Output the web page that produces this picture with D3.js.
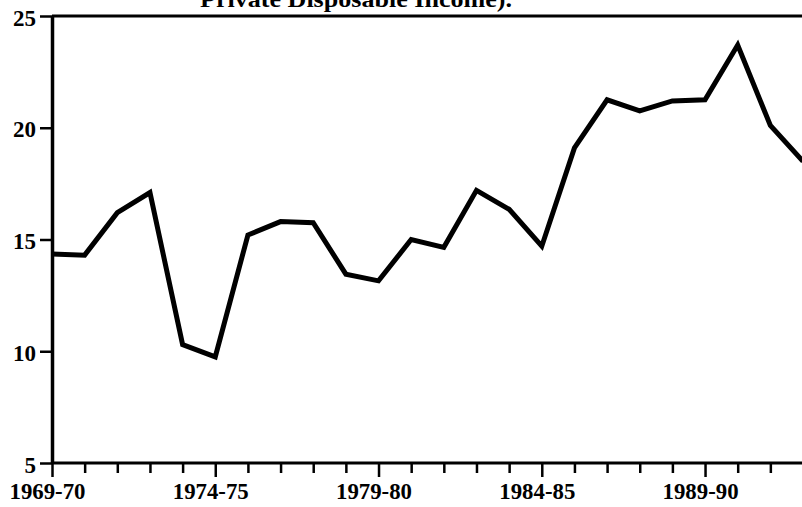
<!DOCTYPE html>
<html>
<head>
<meta charset="utf-8">
<script src="https://cdnjs.cloudflare.com/ajax/libs/d3/7.8.5/d3.min.js"></script>
<style>
  body { margin: 0; background: white; }
  svg { display: block; }
</style>
</head>
<body>
<div id="chart"></div>
<script>
// years 1969-70 .. 1992-93
let years = ["1969-70","1970-71","1971-72","1972-73","1973-74","1974-75","1975-76","1976-77",
  "1977-78","1978-79","1979-80","1980-81","1981-82","1982-83","1983-84","1984-85",
  "1985-86","1986-87","1987-88","1988-89","1989-90","1990-91","1991-92","1992-93"];
let values = [14.35, 14.3, 16.2, 17.1, 10.3, 9.75, 15.2, 15.8,
  15.75, 13.45, 13.15, 15.0, 14.65, 17.2, 16.35, 14.7,
  19.1, 21.25, 20.75, 21.2, 21.25, 23.7, 20.1, 18.5];
let yTicks = [5, 10, 15, 20, 25];
let labelYears = ["1969-70","1974-75","1979-80","1984-85","1989-90"];
let title = "Private Disposable Income).";

let dim = {'width': 802, 'height': 507};

let svg = d3.select('#chart').append('svg')
    .attr('width', dim.width)
    .attr('height', dim.height)
    .style('background', 'white');

let x = d3.scalePoint().domain(years).range([52, 803]);
let y = d3.scaleLinear().domain([5, 25]).range([463, 16]);

let font = '"Liberation Serif", "Times New Roman", serif';

// title, cut off at the top like in the scan
svg.append('text')
    .attr('x', 356)
    .attr('y', 7)
    .attr('text-anchor', 'middle')
    .attr('textLength', 312)
    .attr('lengthAdjust', 'spacingAndGlyphs')
    .style('font-family', font)
    .style('font-weight', 'bold')
    .style('font-size', '24px')
    .text(title);

// top frame line
svg.append('line')
    .attr('x1', x(years[0])).attr('x2', dim.width)
    .attr('y1', y(25)).attr('y2', y(25))
    .attr('stroke', 'black').attr('stroke-width', 3);

// x axis
let xAxis = svg.append('g')
    .attr('transform', `translate(0,${y(5)})`)
    .call(d3.axisBottom(x)
        .tickSize(10)
        .tickSizeOuter(0)
        .tickFormat(d => labelYears.includes(d) ? d : ''));
xAxis.select('.domain').attr('stroke-width', 3).attr('d', `M${x(years[0])},0H${dim.width}`);
xAxis.selectAll('.tick line')
    .attr('stroke-width', 2.5)
    .attr('y2', d => labelYears.includes(d) ? 14 : 10);
xAxis.selectAll('.tick text')
    .attr('y', 19)
    .attr('dx', -5)
    .attr('dy', '0.71em')
    .attr('textLength', d => labelYears.includes(d) ? 76 : null)
    .attr('lengthAdjust', 'spacingAndGlyphs')
    .style('font-family', font)
    .style('font-weight', 'bold')
    .style('font-size', '24px')
    .attr('fill', 'black');

// y axis
let yAxis = svg.append('g')
    .attr('transform', `translate(${x(years[0])},0)`)
    .call(d3.axisLeft(y)
        .tickValues(yTicks)
        .tickSize(12)
        .tickSizeOuter(0));
yAxis.select('.domain').attr('stroke-width', 3.5);
yAxis.selectAll('.tick line').attr('stroke-width', 2.5);
yAxis.selectAll('.tick text')
    .attr('x', -16)
    .attr('dy', '0.4em')
    .style('font-family', font)
    .style('font-weight', 'bold')
    .style('font-size', '23px')
    .attr('fill', 'black');

// the series
let line = d3.line()
    .x((d, i) => x(years[i]))
    .y(d => y(d));

svg.append('path')
    .datum(values)
    .attr('d', line)
    .attr('fill', 'none')
    .attr('stroke', 'black')
    .attr('stroke-width', 5)
    .attr('stroke-linejoin', 'miter');
</script>
</body>
</html>
